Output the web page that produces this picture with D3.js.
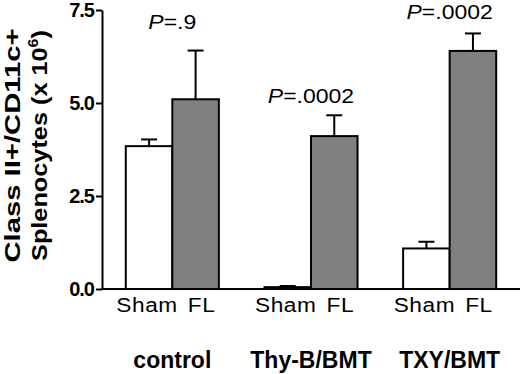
<!DOCTYPE html>
<html>
<head>
<meta charset="utf-8">
<script src="https://cdn.jsdelivr.net/npm/d3@7"></script>
<style>
  body { margin: 0; background: #fff; }
  svg { display: block; font-family: "Liberation Sans", Arial, sans-serif; }
</style>
</head>
<body>
<div id="chart"></div>
<script>
// data (cells x 10^6)
const groups = ['control', 'Thy-B/BMT', 'TXY/BMT'];
const treatments = ['Sham', 'FL'];
const shamMeans = [3.84, 0.05, 1.09];
const shamErrors = [0.18, 0.03, 0.18];
const flMeans = [5.10, 4.11, 6.40];
const flErrors = [1.31, 0.56, 0.47];
const pValues = ['.9', '.0002', '.0002'];
const pLabelLevel = [7.0, 5.0, 7.25];   // where the P label sits, in axis units
const yTicks = [0, 2.5, 5, 7.5];

const width = 520, height = 374;
const margin = { left: 102, right: 1, top: 10, bottom: 85 };

const svg = d3.select('#chart').append('svg')
    .attr('width', width)
    .attr('height', height);

// scales
const yScale = d3.scaleLinear()
    .domain([0, 7.5])
    .range([height - margin.bottom, margin.top]);

const xScale = d3.scaleBand()
    .domain(groups)
    .range([margin.left + 1, width - margin.right])
    .padding(0);

const innerScale = d3.scaleBand()
    .domain(treatments)
    .range([0, xScale.bandwidth()])
    .paddingInner(0)
    .paddingOuter(0.49);

const fills = { Sham: '#ffffff', FL: '#808080' };
const labelShift = { Sham: -2, FL: 6 };   // category labels sit a little apart

// tidy rows
const rows = [];
groups.forEach((g, i) => {
    rows.push({ group: g, treatment: 'Sham', mean: shamMeans[i], err: shamErrors[i] });
    rows.push({ group: g, treatment: 'FL', mean: flMeans[i], err: flErrors[i] });
});

const barX = d => xScale(d.group) + innerScale(d.treatment);
const barMid = d => barX(d) + innerScale.bandwidth() / 2;

// error bars (drawn first so the bar outline sits on top)
const errG = svg.append('g')
    .attr('stroke', '#000')
    .attr('stroke-width', 2);

errG.selectAll('line.stem')
    .data(rows)
    .join('line')
    .attr('class', 'stem')
    .attr('x1', barMid)
    .attr('x2', barMid)
    .attr('y1', d => yScale(d.mean))
    .attr('y2', d => yScale(d.mean + d.err));

errG.selectAll('line.cap')
    .data(rows)
    .join('line')
    .attr('class', 'cap')
    .attr('x1', d => barMid(d) - 8)
    .attr('x2', d => barMid(d) + 8)
    .attr('y1', d => yScale(d.mean + d.err))
    .attr('y2', d => yScale(d.mean + d.err));

// bars
svg.append('g')
    .selectAll('rect')
    .data(rows)
    .join('rect')
    .attr('x', barX)
    .attr('y', d => yScale(d.mean))
    .attr('width', innerScale.bandwidth())
    .attr('height', d => yScale(0) - yScale(d.mean))
    .attr('fill', d => fills[d.treatment])
    .attr('stroke', '#000')
    .attr('stroke-width', 2);

// baseline across the whole plot
svg.append('line')
    .attr('x1', margin.left)
    .attr('x2', width)
    .attr('y1', yScale(0))
    .attr('y2', yScale(0))
    .attr('stroke', '#000')
    .attr('stroke-width', 2);

// y axis
const yAxis = d3.axisLeft(yScale)
    .tickValues(yTicks)
    .tickFormat(d3.format('.1f'))
    .tickSize(6)
    .tickSizeOuter(0)
    .tickPadding(2);

svg.append('g')
    .attr('transform', `translate(${margin.left}, 0)`)
    .call(yAxis)
    .call(g => g.select('.domain').attr('stroke-width', 2))
    .call(g => g.selectAll('.tick line').attr('stroke-width', 2))
    .call(g => g.selectAll('.tick text')
        .attr('font-family', '"Liberation Sans", Arial, sans-serif')
        .attr('font-size', 20)
        .attr('font-weight', 'bold')
        .attr('letter-spacing', '-1')
        .attr('fill', '#000'));

// Sham / FL labels under each bar
svg.append('g')
    .selectAll('text')
    .data(rows)
    .join('text')
    .attr('transform', d =>
        `translate(${barMid(d) + labelShift[d.treatment]}, ${yScale(0) + 23}) scale(1.08, 1)`)
    .attr('text-anchor', 'middle')
    .attr('font-size', 21)
    .attr('letter-spacing', '0.5')
    .text(d => d.treatment);

// group labels
svg.append('g')
    .selectAll('text')
    .data(groups)
    .join('text')
    .attr('x', d => xScale(d) + xScale.bandwidth() / 2)
    .attr('y', height - 6)
    .attr('text-anchor', 'middle')
    .attr('font-size', 23)
    .attr('font-weight', 'bold')
    .text(d => d);

// P values
const pText = svg.append('g')
    .selectAll('text')
    .data(groups)
    .join('text')
    .attr('transform', (d, i) =>
        `translate(${xScale(d) + xScale.bandwidth() / 2}, ${yScale(pLabelLevel[i])}) scale(1.15, 1)`)
    .attr('text-anchor', 'middle')
    .attr('font-size', 20);
pText.append('tspan').attr('font-style', 'italic').text('P');
pText.append('tspan').text((d, i) => '=' + pValues[i]);

// y axis title, two lines
const yMid = (yScale(0) + yScale(7.5)) / 2 - 4;
const titleG = svg.append('g')
    .attr('font-size', 22)
    .attr('font-weight', 'bold')
    .attr('text-anchor', 'middle');

titleG.append('text')
    .attr('transform', `translate(20, ${yMid}) rotate(-90) scale(1.33, 1)`)
    .text('Class II+/CD11c+');

const line2 = titleG.append('text')
    .attr('transform', `translate(47, ${yMid}) rotate(-90) scale(1.15, 1)`);
line2.append('tspan').text('Splenocytes (x 10');
line2.append('tspan').attr('dy', -9).attr('font-size', 14).text('6');
line2.append('tspan').attr('dy', 9).text(')');
</script>
</body>
</html>
